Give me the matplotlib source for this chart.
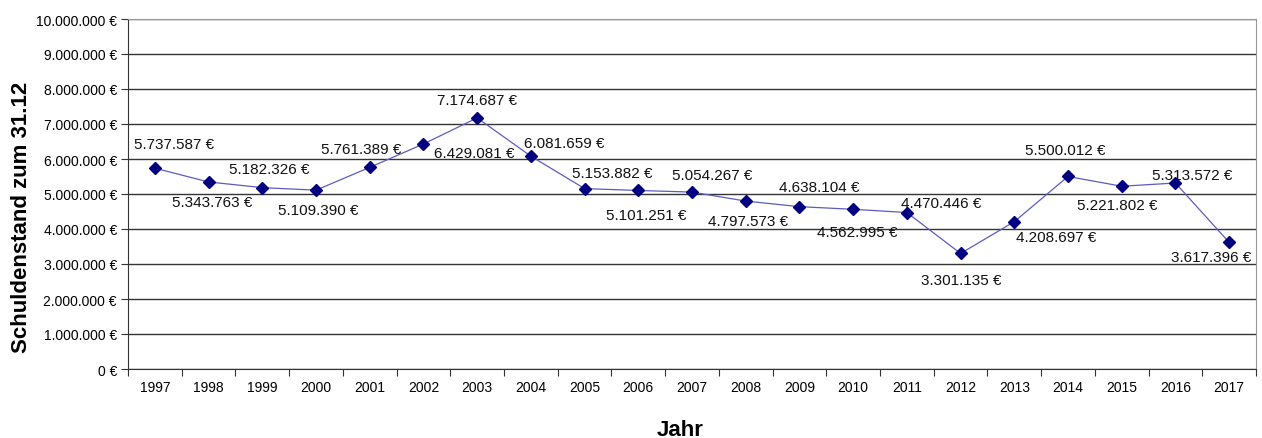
import matplotlib
matplotlib.use("Agg")
import matplotlib.pyplot as plt
import numpy as np
from matplotlib.ticker import FuncFormatter, FixedLocator

plt.rcParams['font.family'] = ['Liberation Sans', 'DejaVu Sans']

# data
years = [str(y) for y in range(1997, 2018)]
debt = [5737587, 5343763, 5182326, 5109390, 5761389, 6429081, 7174687,
        6081659, 5153882, 5101251, 5054267, 4797573, 4638104, 4562995,
        4470446, 3301135, 4208697, 5500012, 5221802, 5313572, 3617396]

# label offsets in pixels (dx, dy) relative to each point
label_offsets = [(19, 24), (4, -20), (7, 19), (2, -20), (-9, 18), (51, -9),
                 (0, 18), (33, 13), (28, 16), (8, -25), (20, 17), (2, -20),
                 (20, 20), (4, -23), (34, 10), (1, -27), (42, -15), (-3, 26),
                 (-4, -19), (17, 8), (-18, -15)]


def euro(v, pos=None):
    return f"{int(round(v)):,}".replace(",", ".") + " €"


fig = plt.figure(figsize=(12.62, 4.39), dpi=100)
ax = fig.add_axes([128 / 1262, 1 - 370 / 439, (1256 - 128) / 1262, 350 / 439])

x = np.arange(len(years))
ax.plot(x, debt, color='#5c5cc0', lw=0.9, marker='D', markersize=6,
        markerfacecolor='#000080', markeredgecolor='#000080', zorder=3)

for xi, v, (dx, dy) in zip(x, debt, label_offsets):
    ax.annotate(euro(v), (xi, v), xytext=(dx, dy), textcoords='offset pixels',
                ha='center', va='center', fontsize=11, color='#111111', zorder=4)

ax.set_xlim(-0.5, len(years) - 0.5)
ax.set_ylim(0, 10000000)
ax.yaxis.set_major_locator(FixedLocator(np.arange(0, 10000001, 1000000)))
ax.yaxis.set_major_formatter(FuncFormatter(euro))
ax.grid(axis='y', color='#333333', lw=1)
ax.set_axisbelow(True)

ax.set_xticks(np.arange(-0.5, len(years), 1))
ax.set_xticklabels([])
ax.set_xticks(x, minor=True)
ax.set_xticklabels(years, minor=True)
ax.tick_params(axis='x', which='minor', length=0, pad=8, labelsize=10)
ax.tick_params(axis='x', which='major', length=5, color='#333333')
ax.tick_params(axis='y', length=5, labelsize=10, color='#333333', pad=3)

for s in ['left', 'bottom']:
    ax.spines[s].set_color('#333333')
for s in ['top', 'right']:
    ax.spines[s].set_color('#999999')

fig.text(22 / 1262, 1 - 217 / 439, 'Schuldenstand zum 31.12', rotation=90,
         ha='center', va='center', fontsize=16, fontweight='bold')
fig.text(680 / 1262, 1 - 431 / 439, 'Jahr', ha='center', va='center',
         fontsize=16, fontweight='bold')

fig.savefig('out.png', dpi=100)
